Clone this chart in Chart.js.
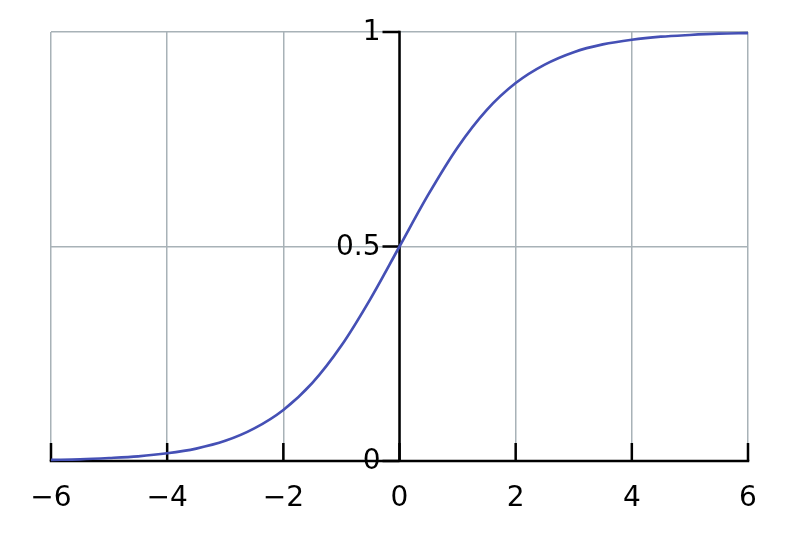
<!DOCTYPE html>
<html>
<head>
<meta charset="utf-8">
<script src="https://cdn.jsdelivr.net/npm/chart.js@4"></script>
<style>
  html, body { margin: 0; padding: 0; background: #fff; }
  canvas { display: block; }
</style>
</head>
<body>
<canvas id="curva" width="800" height="533"></canvas>
<script>
// valores
var xValues = [-6, -5.5, -5, -4.5, -4, -3.5, -3, -2.5, -2, -1.5, -1, -0.5, 0,
               0.5, 1, 1.5, 2, 2.5, 3, 3.5, 4, 4.5, 5, 5.5, 6];
var yValues = [0.0025, 0.004, 0.007, 0.011, 0.018, 0.029, 0.047, 0.076, 0.119, 0.182, 0.269, 0.378, 0.5,
               0.622, 0.731, 0.818, 0.881, 0.924, 0.953, 0.971, 0.982, 0.989, 0.993, 0.996, 0.9975];

var xTickValues = [-6, -4, -2, 0, 2, 4, 6];
var xTickLabels = ["\u22126", "\u22124", "\u22122", "0", "2", "4", "6"];
var yTickValues = [0, 0.5, 1];
var yTickLabels = ["0", "0.5", "1"];

var points = xValues.map(function (x, i) { return { x: x, y: yValues[i] }; });

// Ejes que se cruzan en el origen, con marcas y etiquetas
var ejesCentrados = {
  id: "ejesCentrados",
  beforeDatasetsDraw: function (chart) {
    var ctx = chart.ctx;
    var xs = chart.scales.x, ys = chart.scales.y;
    var x0 = xs.getPixelForValue(0), y0 = ys.getPixelForValue(0);
    var top = ys.getPixelForValue(1);

    ctx.save();
    ctx.strokeStyle = "#000";
    ctx.lineWidth = 2.5;
    ctx.lineCap = "square";

    ctx.beginPath();
    ctx.moveTo(xs.left, y0);
    ctx.lineTo(xs.right, y0);
    ctx.moveTo(x0, top);
    ctx.lineTo(x0, ys.bottom);
    ctx.stroke();

    ctx.lineCap = "butt";
    ctx.beginPath();
    xTickValues.forEach(function (v) {
      var px = xs.getPixelForValue(v);
      ctx.moveTo(px, y0);
      ctx.lineTo(px, y0 - 18);
    });
    yTickValues.forEach(function (v) {
      var py = ys.getPixelForValue(v);
      ctx.moveTo(x0, py);
      ctx.lineTo(x0 - 17, py);
    });
    ctx.stroke();

    ctx.fillStyle = "#000";
    ctx.font = "28px 'DejaVu Sans'";
    ctx.textAlign = "center";
    ctx.textBaseline = "middle";
    xTickValues.forEach(function (v, i) {
      ctx.fillText(xTickLabels[i], xs.getPixelForValue(v), y0 + 38);
    });
    ctx.textAlign = "right";
    yTickValues.forEach(function (v, i) {
      ctx.fillText(yTickLabels[i], x0 - 19, ys.getPixelForValue(v) + 1);
    });
    ctx.restore();
  }
};

var ctx = document.getElementById("curva").getContext("2d");
var chart = new Chart(ctx, {
  type: "line",
  data: {
    datasets: [{
      data: points,
      borderColor: "#4550b5",
      borderWidth: 2.7,
      pointRadius: 0,
      fill: false,
      cubicInterpolationMode: "monotone",
      clip: 6
    }]
  },
  options: {
    responsive: false,
    animation: false,
    layout: { padding: { left: 51, right: 52, top: 32, bottom: 72 } },
    plugins: { legend: { display: false }, tooltip: { enabled: false } },
    scales: {
      x: {
        type: "linear",
        min: -6, max: 6,
        ticks: { stepSize: 2, display: false },
        grid: { color: "#a8b2b7", lineWidth: 1.5, drawTicks: false },
        border: { display: false }
      },
      y: {
        min: 0, max: 1,
        ticks: { stepSize: 0.5, display: false },
        grid: { color: "#a8b2b7", lineWidth: 1.5, drawTicks: false },
        border: { display: false }
      }
    }
  },
  plugins: [ejesCentrados]
});
</script>
</body>
</html>
